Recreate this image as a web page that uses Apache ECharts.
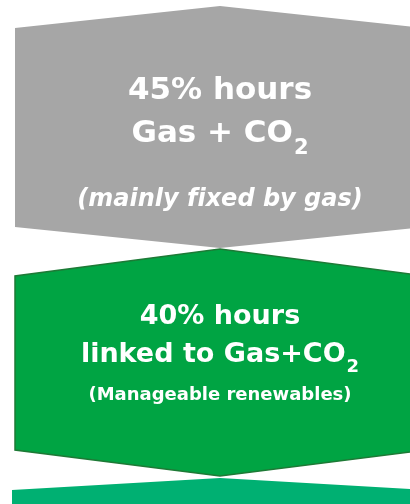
<!DOCTYPE html>
<html>
<head>
<meta charset="utf-8">
<script src="https://cdn.jsdelivr.net/npm/echarts@6/dist/echarts.min.js"></script>
<style>
  html, body { margin: 0; padding: 0; background: #fff; }
  #chart { width: 410px; height: 504px; }
</style>
</head>
<body>
<div id="chart"></div>
<script>
/* bloques del diagrama (unidades del eje = px de la imagen) */
var blockNames  = ['gas', 'linked', 'rest'];
var tipTop      = [6, 249, 478];
var sideTop     = [28, 276, 490];
var sideBottom  = [227, 450, 540];
var tipBottom   = [248, 476, 540];
var halfWidth   = [205, 205, 208];
var blockColor  = ['#a6a6a6', '#00a443', '#00b072'];
var blockBorder = [null, '#1d7a36', null];

/* textos */
var line1 = ['45% hours', '40% hours', ''];
var line2 = [['Gas + CO', '2'], ['linked to Gas+CO', '2'], null];
var note  = ['(mainly f\u200Cixed by gas)', '(Manageable renewables)', ''];

var chart = echarts.init(document.getElementById('chart'));

var data = [];
for (var i = 0; i < blockNames.length; i++) {
    data.push([i, tipTop[i], sideTop[i], sideBottom[i], tipBottom[i], halfWidth[i]]);
}

var FONT = '"DejaVu Sans", sans-serif';
var textSet = [
    { s1: 31, y1: 91, s2: 31, y2: 134, sub: 21, drop: -7, sn: 24, yn: 200, italic: true },
    { s1: 27, y1: 317, s2: 27, y2: 355, sub: 18, drop: -5, sn: 18, yn: 395, italic: false }
];

function renderItem(params, api) {
    var idx = api.value(0);
    var cx = 220;
    var hw = api.value(5);
    var p = function (x, y) { return api.coord([x, y]); };
    var pts = [
        p(cx, api.value(1)),
        p(cx + hw, api.value(2)),
        p(cx + hw, api.value(3)),
        p(cx, api.value(4)),
        p(cx - hw, api.value(3)),
        p(cx - hw, api.value(2))
    ];
    var children = [{
        type: 'polygon',
        shape: { points: pts },
        style: {
            fill: blockColor[idx],
            stroke: blockBorder[idx] || null,
            lineWidth: blockBorder[idx] ? 1.5 : 0
        }
    }];
    var t = textSet[idx];
    if (t) {
        var c1 = p(cx, t.y1), c2 = p(cx, t.y2), c3 = p(cx, t.yn);
        children.push({
            type: 'text',
            style: {
                x: c1[0], y: c1[1], text: line1[idx],
                fill: '#fff', font: 'bold ' + t.s1 + 'px ' + FONT,
                align: 'center', verticalAlign: 'middle'
            }
        });
        children.push({
            type: 'text',
            style: {
                x: c2[0], y: c2[1],
                text: '{m|' + line2[idx][0] + '}{s|' + line2[idx][1] + '}',
                align: 'center', verticalAlign: 'middle',
                rich: {
                    m: { fill: '#fff', fontSize: t.s2, fontWeight: 'bold', fontFamily: FONT, lineHeight: t.s2 + 6 },
                    s: { fill: '#fff', fontSize: t.sub, fontWeight: 'bold', fontFamily: FONT, lineHeight: t.s2 + 6, verticalAlign: 'bottom', padding: [0, 0, t.drop, 1] }
                }
            }
        });
        children.push({
            type: 'text',
            style: {
                x: c3[0], y: c3[1], text: note[idx],
                fill: '#fff', font: (t.italic ? 'italic ' : '') + 'bold ' + t.sn + 'px ' + FONT,
                align: 'center', verticalAlign: 'middle'
            }
        });
    }
    return { type: 'group', children: children };
}

var option = {
    animation: false,
    grid: { left: 0, right: 0, top: 0, bottom: 0 },
    xAxis: { type: 'value', min: 0, max: 410, show: false },
    yAxis: { type: 'value', min: 0, max: 504, inverse: true, show: false },
    series: [{
        type: 'custom',
        renderItem: renderItem,
        clip: true,
        data: data
    }]
};

chart.setOption(option);
</script>
</body>
</html>
